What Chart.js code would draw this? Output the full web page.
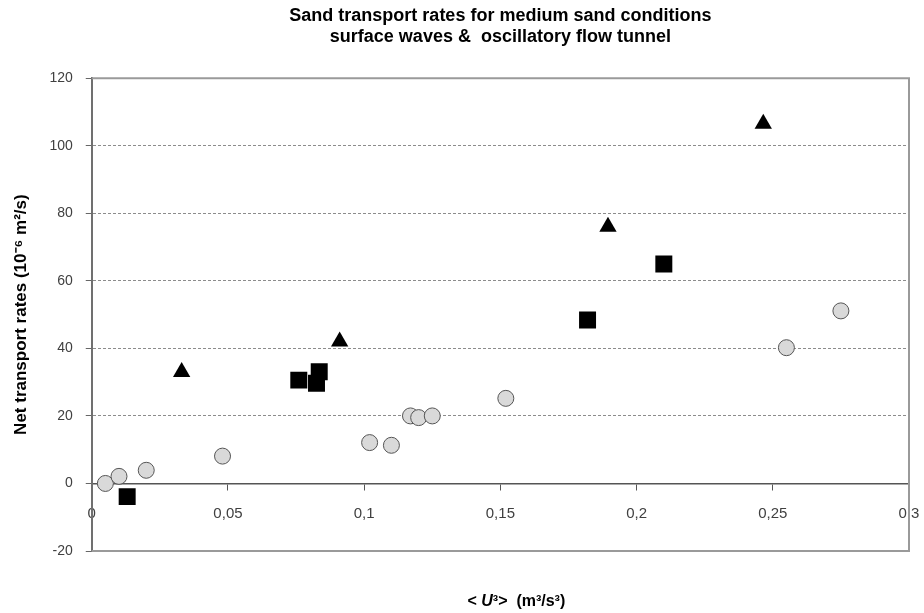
<!DOCTYPE html>
<html>
<head>
<meta charset="utf-8">
<script src="https://cdn.jsdelivr.net/npm/chart.js@4.4.0/dist/chart.umd.min.js"></script>
<style>
  html, body { margin: 0; padding: 0; background: #fff; overflow: hidden; }
  #wrap { width: 924px; height: 613px; position: relative; }
  canvas { display: block; }
</style>
</head>
<body>
<div id="wrap"><canvas id="chart"></canvas></div>
<script>
// values
const circleX = [0.005, 0.010, 0.020, 0.048, 0.102, 0.110, 0.117, 0.120, 0.125, 0.152, 0.255, 0.275];
const circleY = [0, 2.1, 3.9, 8.1, 12.1, 11.3, 20, 19.5, 20, 25.2, 40.2, 51.1];

const squareX = [0.013, 0.076, 0.0825, 0.0835, 0.182, 0.210];
const squareY = [-3.9, 30.6, 29.7, 33.1, 48.4, 65];

const triangleX = [0.033, 0.091, 0.1895, 0.2465];
const triangleY = [33, 42, 76, 106.5];

const yTicks = [-20, 0, 20, 40, 60, 80, 100, 120];
const xTicks = [0, 0.05, 0.1, 0.15, 0.2, 0.25, 0.3];

const titleLines = ['Sand transport rates for medium sand conditions', 'surface waves &  oscillatory flow tunnel'];
const yTitle = 'Net transport rates (10\u207B\u2076 m\u00B2/s)';

function toPoints(xs, ys) {
  return xs.map((x, i) => ({ x: x, y: ys[i] }));
}

Chart.defaults.font.family = "'Liberation Sans', Arial, sans-serif";

// grey frame round the plot area (top, right, bottom)
const framePlugin = {
  id: 'frame',
  beforeDatasetsDraw(chart) {
    const { ctx, chartArea: a } = chart;
    ctx.save();
    ctx.strokeStyle = '#9a9a9a';
    ctx.lineWidth = 2;
    ctx.beginPath();
    ctx.moveTo(a.left, a.top);
    ctx.lineTo(a.right, a.top);
    ctx.lineTo(a.right, a.bottom);
    ctx.lineTo(a.left, a.bottom);
    ctx.stroke();
    ctx.restore();
  }
};

// x axis title with italic U
const xTitlePlugin = {
  id: 'xTitle',
  afterDraw(chart) {
    const { ctx, chartArea: a } = chart;
    const fam = Chart.defaults.font.family;
    const parts = [
      { t: '< ', f: 'bold 16px ' + fam },
      { t: 'U', f: 'italic bold 16px ' + fam },
      { t: '\u00B3>  (m\u00B3/s\u00B3)', f: 'bold 16px ' + fam }
    ];
    ctx.save();
    let total = 0;
    parts.forEach(p => { ctx.font = p.f; p.w = ctx.measureText(p.t).width; total += p.w; });
    let x = (a.left + a.right) / 2 + 16 - total / 2;
    const y = a.bottom + 51;
    ctx.fillStyle = '#000';
    ctx.textBaseline = 'middle';
    parts.forEach(p => { ctx.font = p.f; ctx.fillText(p.t, x, y); x += p.w; });
    ctx.restore();
  }
};

new Chart(document.getElementById('chart'), {
  type: 'scatter',
  data: {
    datasets: [
      {
        label: 'circles',
        data: toPoints(circleX, circleY),
        pointStyle: 'circle',
        pointRadius: 8,
        pointHoverRadius: 8,
        backgroundColor: '#d9d9d9',
        borderColor: '#555555',
        borderWidth: 1
      },
      {
        label: 'squares',
        data: toPoints(squareX, squareY),
        pointStyle: 'rect',
        pointRadius: 12,
        pointHoverRadius: 12,
        backgroundColor: '#000000',
        borderColor: '#000000',
        borderWidth: 0
      },
      {
        label: 'triangles',
        data: toPoints(triangleX, triangleY),
        pointStyle: 'triangle',
        pointRadius: 10,
        pointHoverRadius: 10,
        backgroundColor: '#000000',
        borderColor: '#000000',
        borderWidth: 0
      }
    ]
  },
  options: {
    responsive: true,
    maintainAspectRatio: false,
    animation: false,
    layout: { padding: { left: 0, right: 15, top: 0, bottom: 62 } },
    plugins: {
      legend: { display: false },
      tooltip: { enabled: false },
      title: {
        display: true,
        text: titleLines,
        fullSize: false,
        color: '#000',
        font: { size: 18, weight: 'bold' },
        padding: { top: 5, bottom: 30 }
      }
    },
    scales: {
      x: {
        type: 'linear',
        position: { y: 0 },
        min: 0,
        max: 0.3,
        afterBuildTicks: axis => { axis.ticks = xTicks.map(v => ({ value: v })); },
        afterFit: axis => { axis.paddingLeft = 0; axis.paddingRight = 0; },
        ticks: {
          autoSkip: false,
          maxRotation: 0,
          padding: 15,
          color: '#404040',
          font: { size: 15 },
          callback: v => String(Math.round(v * 100) / 100).replace('.', ',')
        },
        grid: { drawOnChartArea: false, drawTicks: true, tickLength: 6, color: '#555555' },
        border: { color: '#555555', width: 1.5 }
      },
      y: {
        position: 'left',
        min: -20,
        max: 120,
        afterBuildTicks: axis => { axis.ticks = yTicks.map(v => ({ value: v })); },
        ticks: { padding: 13, color: '#404040', font: { size: 14 } },
        grid: {
          color: '#8c8c8c',
          tickLength: 6,
          tickColor: '#666666',
          tickBorderDash: []
        },
        border: { color: '#707070', width: 2, dash: [3, 2] },
        title: {
          display: true,
          text: yTitle,
          color: '#000',
          font: { size: 17, weight: 'bold' },
          padding: { top: 11, bottom: 5 }
        }
      }
    }
  },
  plugins: [framePlugin, xTitlePlugin]
});
</script>
</body>
</html>
